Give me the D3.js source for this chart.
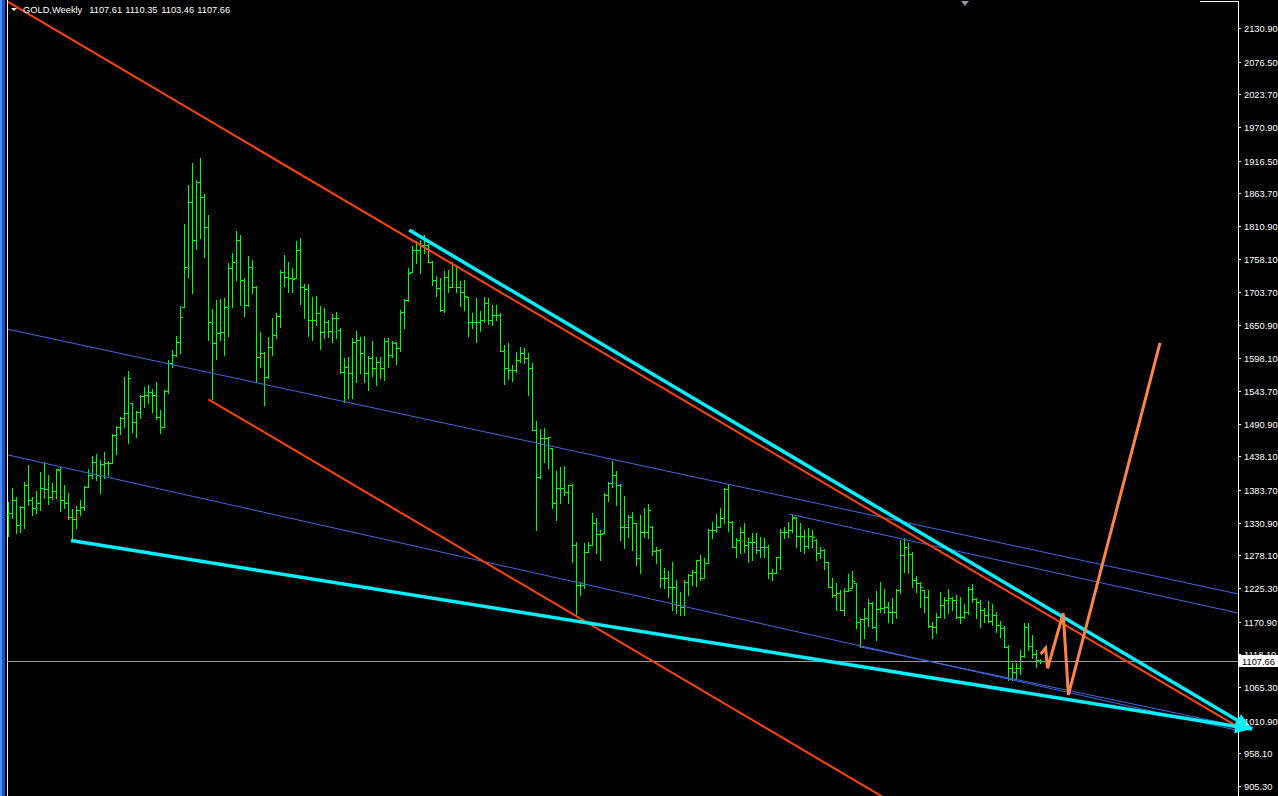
<!DOCTYPE html>
<html><head><meta charset="utf-8">
<script src="https://cdn.jsdelivr.net/npm/d3@7"></script>
<style>html,body{margin:0;padding:0;background:#000;overflow:hidden}svg{display:block}</style>
</head><body>
<svg id="c" width="1278" height="796"></svg>
<script>
// ---- data (weekly GOLD bars) ----
const symbolName = "GOLD,Weekly";
const headerValues = ["1107.61", "1110.35", "1103.46", "1107.66"];
const lastPrice = 1107.66;
const priceTicks = [2130.90, 2076.50, 2023.70, 1970.90, 1916.50, 1863.70, 1810.90, 1758.10, 1703.70, 1650.90, 1598.10, 1543.70, 1490.90, 1438.10, 1383.70, 1330.90, 1278.10, 1225.30, 1170.90, 1118.10, 1065.30, 1010.90, 958.10, 905.30];

const opens = [1344,1347,1368,1327,1356,1392,1368,1355,1363,1387,
1386,1373,1382,1416,1368,1363,1340,1337,1352,1357,
1389,1408,1429,1408,1426,1428,1428,1473,1486,1500,
1508,1524,1494,1510,1536,1538,1542,1538,1502,1486,
1544,1589,1602,1623,1680,1745,1850,1788,1882,1858,
1809,1656,1622,1638,1639,1680,1743,1753,1788,1724,
1683,1745,1712,1599,1605,1567,1615,1635,1665,1736,
1728,1727,1727,1772,1712,1709,1659,1659,1670,1639,
1656,1641,1662,1643,1575,1583,1573,1623,1627,1605,
1573,1597,1581,1591,1581,1625,1602,1622,1614,1672,
1691,1736,1772,1772,1780,1780,1753,1724,1711,1675,
1728,1712,1748,1712,1704,1696,1656,1656,1656,1659,
1686,1659,1667,1667,1609,1581,1578,1578,1594,1605,
1597,1581,1481,1405,1468,1468,1452,1363,1387,1387,
1381,1392,1295,1230,1230,1284,1295,1331,1313,1314,
1376,1395,1408,1392,1324,1324,1340,1331,1274,1316,
1316,1324,1285,1287,1242,1242,1227,1227,1198,1195,
1235,1247,1251,1271,1242,1266,1319,1319,1324,1339,
1386,1332,1292,1303,1316,1295,1300,1300,1287,1292,
1292,1250,1250,1276,1316,1316,1319,1339,1310,1310,
1293,1310,1303,1282,1287,1268,1227,1214,1217,1190,
1221,1226,1234,1171,1175,1177,1201,1162,1192,1193,
1195,1187,1187,1222,1279,1292,1280,1238,1234,1222,
1211,1164,1162,1179,1198,1206,1209,1206,1179,1179,
1187,1224,1208,1203,1190,1182,1172,1182,1166,1161,
1130,1096,1090,1096,1116,1162,1132,1119,1107.61];

const highs = [1365,1387,1373,1358,1397,1424,1373,1382,1413,1429,
1408,1395,1418,1421,1392,1379,1353,1358,1368,1390,
1418,1439,1442,1432,1445,1431,1474,1487,1502,1567,
1576,1525,1512,1538,1551,1554,1547,1559,1513,1546,
1594,1610,1633,1681,1814,1877,1913,1885,1921,1863,
1829,1677,1691,1693,1694,1751,1767,1803,1796,1727,
1762,1756,1714,1639,1607,1631,1662,1670,1740,1764,
1753,1743,1787,1791,1717,1717,1696,1698,1681,1678,
1659,1669,1672,1646,1597,1599,1630,1641,1631,1633,
1601,1625,1599,1599,1630,1630,1625,1623,1675,1693,
1743,1779,1787,1788,1796,1781,1754,1730,1727,1738,
1740,1753,1748,1722,1724,1696,1670,1694,1673,1696,
1694,1683,1683,1670,1618,1622,1586,1607,1615,1614,
1605,1589,1496,1483,1484,1470,1452,1415,1421,1423,
1392,1393,1300,1235,1298,1300,1347,1339,1319,1379,
1397,1431,1415,1393,1374,1344,1348,1331,1344,1355,
1361,1325,1292,1288,1258,1253,1268,1238,1219,1238,
1248,1255,1271,1279,1274,1321,1332,1345,1355,1387,
1394,1334,1306,1324,1331,1306,1314,1314,1308,1306,
1295,1256,1276,1321,1324,1332,1344,1341,1331,1319,
1323,1319,1304,1292,1289,1268,1242,1234,1222,1226,
1248,1253,1234,1177,1193,1208,1202,1221,1235,1224,
1203,1209,1224,1303,1306,1298,1284,1245,1235,1223,
1222,1171,1185,1219,1211,1224,1211,1214,1211,1200,
1227,1232,1209,1206,1193,1205,1200,1187,1172,1164,
1133,1104,1104,1125,1169,1169,1149,1125,1110.35];

const lows = [1310,1339,1314,1316,1322,1360,1343,1347,1352,1371,
1361,1369,1371,1350,1355,1337,1306,1323,1344,1352,
1389,1403,1400,1379,1403,1408,1427,1442,1474,1486,
1460,1478,1470,1500,1518,1525,1510,1499,1476,1486,
1541,1583,1601,1605,1680,1728,1702,1774,1791,1761,
1627,1531,1596,1627,1602,1633,1680,1724,1683,1665,
1681,1702,1559,1583,1521,1565,1602,1630,1648,1714,
1704,1704,1727,1685,1662,1633,1627,1651,1612,1630,
1631,1623,1630,1573,1526,1533,1533,1559,1573,1559,
1546,1568,1554,1565,1562,1583,1599,1588,1609,1646,
1690,1736,1751,1735,1767,1753,1715,1698,1673,1672,
1704,1712,1704,1681,1675,1633,1646,1623,1641,1656,
1652,1651,1659,1609,1555,1563,1560,1575,1591,1589,
1538,1481,1319,1403,1429,1420,1355,1335,1363,1376,
1363,1268,1182,1214,1226,1284,1295,1282,1271,1314,
1366,1389,1360,1303,1290,1308,1287,1263,1250,1308,
1306,1279,1266,1227,1226,1211,1190,1185,1182,1182,
1214,1230,1229,1238,1242,1266,1306,1316,1324,1331,
1318,1292,1276,1282,1284,1268,1271,1282,1276,1276,
1242,1238,1250,1256,1306,1308,1316,1292,1285,1282,
1290,1292,1271,1274,1256,1227,1211,1190,1190,1182,
1221,1225,1161,1130,1145,1164,1161,1141,1187,1185,
1171,1169,1177,1217,1251,1250,1227,1219,1195,1187,
1162,1145,1153,1178,1177,1185,1190,1177,1169,1177,
1183,1203,1177,1162,1171,1171,1166,1154,1146,1130,
1077,1077,1078,1086,1114,1125,1112,1098,1103.46];

const closes = [1347,1368,1327,1356,1392,1368,1355,1363,1387,1386,
1373,1382,1418,1368,1363,1340,1337,1352,1357,1389,
1408,1429,1408,1426,1428,1428,1473,1486,1500,1508,
1565,1494,1510,1536,1538,1542,1538,1502,1486,1544,
1589,1602,1623,1664,1745,1850,1788,1882,1858,1809,
1656,1622,1638,1639,1680,1743,1753,1788,1724,1683,
1745,1712,1599,1605,1567,1615,1635,1665,1736,1728,
1727,1725,1772,1712,1709,1659,1659,1670,1639,1656,
1641,1662,1662,1575,1583,1573,1623,1627,1605,1573,
1597,1581,1591,1581,1625,1602,1622,1614,1672,1691,
1735,1772,1772,1780,1780,1753,1724,1711,1675,1728,
1712,1749,1712,1704,1698,1656,1656,1656,1659,1686,
1659,1667,1667,1609,1581,1578,1578,1594,1605,1597,
1581,1481,1405,1468,1468,1470,1363,1387,1387,1381,
1392,1295,1230,1230,1284,1295,1331,1313,1313,1376,
1395,1408,1392,1324,1324,1340,1331,1274,1316,1316,
1352,1285,1287,1242,1242,1227,1227,1198,1195,1235,
1247,1251,1271,1242,1266,1319,1319,1324,1339,1386,
1332,1292,1303,1316,1295,1300,1300,1287,1292,1292,
1250,1250,1276,1316,1316,1319,1340,1310,1310,1293,
1310,1308,1282,1287,1268,1227,1214,1217,1190,1221,
1222,1237,1171,1175,1177,1201,1162,1192,1193,1195,
1187,1187,1222,1279,1292,1280,1238,1234,1227,1211,
1164,1162,1179,1198,1206,1209,1206,1179,1179,1187,
1224,1208,1203,1190,1182,1172,1182,1166,1161,1130,
1096,1090,1096,1116,1162,1132,1119,1109,1107.66];

// trend objects: [barIndex, price] anchor points
const orangeUpperLine = [[0, 2173.0], [307.5, 1000.7]];
const orangeLowerLine = [[50.1, 1530.6], [225, 863.6]];
const cyanUpperArrow  = [[100.3, 1804.3], [311, 997.5]];
const cyanLowerArrow  = [[15.75, 1302.3], [311, 997.5]];
const blueLine1 = [[0, 1643.8], [307.5, 1215.8]];
const blueLine2 = [[195.25, 1345.1], [307.5, 1185.0]];
const blueLine3 = [[0, 1440.5], [307.5, 995.1]];
const blueLine4 = [[212.8, 1130.6], [307.5, 1002.3]];
const forecastPath = [[258.2, 1118.7], [259.4, 1128.0], [259.9, 1095.6], [263.8, 1184.6], [265.1, 1052.5], [288, 1621.6]];

// ---- drawing ----
const W = 1278, H = 796;
const plotLeft = 7, plotRight = 1238;
const svg = d3.select("#c");
const x = d3.scaleLinear().domain([0, 258]).range([8, 1040]);
const y = d3.scaleLinear().domain([905.30, 2130.90]).range([786, 28]);
const FONT = "'Liberation Sans', Arial, sans-serif";

svg.append("rect").attr("width", W).attr("height", H).attr("fill", "#000");

const defs = svg.append("defs");
defs.append("clipPath").attr("id", "plot").append("rect")
  .attr("x", plotLeft).attr("y", 0).attr("width", plotRight - plotLeft).attr("height", H);

// left window strip
svg.append("rect").attr("x", 0).attr("y", 0).attr("width", 2).attr("height", H).attr("fill", "#4d8ff5");
svg.append("rect").attr("x", 2).attr("y", 0).attr("width", 3).attr("height", H).attr("fill", "#1d4fd0");
// frame
svg.append("rect").attr("x", 7).attr("y", 0).attr("width", 1).attr("height", H).attr("fill", "#fff");
svg.append("rect").attr("x", plotRight).attr("y", 1).attr("width", 1).attr("height", H).attr("fill", "#fff");
svg.append("rect").attr("x", 1200).attr("y", 1).attr("width", plotRight - 1200).attr("height", 1).attr("fill", "#fff");

const plot = svg.append("g").attr("clip-path", "url(#plot)");

// current price line
plot.append("line").attr("x1", plotLeft).attr("x2", plotRight)
  .attr("y1", Math.round(y(lastPrice)) + 0.5).attr("y2", Math.round(y(lastPrice)) + 0.5)
  .attr("stroke", "#9a9a9a").attr("stroke-width", 1).attr("shape-rendering", "crispEdges");

// OHLC bars
const barsG = plot.append("g").attr("fill", "#00ff00").attr("shape-rendering", "crispEdges");
d3.range(opens.length).forEach(i => {
  const bx = Math.round(x(i));
  const yh = Math.round(y(highs[i])), yl = Math.round(y(lows[i]));
  barsG.append("rect").attr("x", bx).attr("y", yh).attr("width", 1).attr("height", Math.max(1, yl - yh + 1));
  barsG.append("rect").attr("x", bx - 2).attr("y", Math.round(y(opens[i]))).attr("width", 2).attr("height", 1);
  barsG.append("rect").attr("x", bx + 1).attr("y", Math.round(y(closes[i]))).attr("width", 2).attr("height", 1);
});

const line = d3.line().x(d => x(d[0])).y(d => y(d[1]));

// blue thin lines
[blueLine1, blueLine2, blueLine3, blueLine4].forEach(l => {
  plot.append("path").attr("d", line(l)).attr("fill", "none")
    .attr("stroke", "#4169e1").attr("stroke-width", 1);
});
// orange-red trend lines
[orangeUpperLine, orangeLowerLine].forEach(l => {
  plot.append("path").attr("d", line(l)).attr("fill", "none")
    .attr("stroke", "#ff4500").attr("stroke-width", 2);
});

// cyan arrows (not clipped)
function arrow(pts) {
  svg.append("path").attr("d", line(pts)).attr("fill", "none")
    .attr("stroke", "#00f0ff").attr("stroke-width", 3.5);
  const x0 = x(pts[0][0]), y0 = y(pts[0][1]);
  const x1 = x(pts[1][0]), y1 = y(pts[1][1]);
  const len = Math.hypot(x1 - x0, y1 - y0);
  const ux = (x1 - x0) / len, uy = (y1 - y0) / len;
  const L = 17, Wd = 7;
  const bx = x1 - L * ux, by = y1 - L * uy;
  svg.append("path")
    .attr("d", `M${x1},${y1}L${bx - Wd * uy},${by + Wd * ux}L${bx + Wd * uy},${by - Wd * ux}Z`)
    .attr("fill", "#00f0ff");
}
arrow(cyanUpperArrow);
arrow(cyanLowerArrow);

// hand-drawn forecast path
svg.append("path").attr("d", line(forecastPath)).attr("fill", "none")
  .attr("stroke", "#fb8448").attr("stroke-width", 3).attr("stroke-linejoin", "miter");

// price axis
const axisG = svg.append("g").attr("font-family", FONT).attr("font-size", 9.3).attr("fill", "#fff");
priceTicks.forEach(v => {
  const ty = Math.round(y(v));
  axisG.append("rect").attr("x", 1239).attr("y", ty).attr("width", 2).attr("height", 1).attr("fill", "#fff");
  axisG.append("text").attr("x", 1244).attr("y", ty + 4).text(v.toFixed(2));
});
// current price box
const py = Math.round(y(lastPrice));
svg.append("rect").attr("x", 1239).attr("y", py - 6).attr("width", 39).attr("height", 12).attr("fill", "#fff");
svg.append("text").attr("x", 1242).attr("y", py + 4).attr("font-family", FONT).attr("font-size", 9.3)
  .attr("fill", "#000").text(lastPrice.toFixed(2));

// header
svg.append("path").attr("d", "M11,8L17,8L14,11Z").attr("fill", "#fff");
const hdr = svg.append("g").attr("font-family", FONT).attr("font-size", 9.3).attr("fill", "#fff");
hdr.append("text").attr("x", 23).attr("y", 13).text(symbolName);
const hx = [89.3, 125.3, 161.3, 197.3];
headerValues.forEach((t, i) => hdr.append("text").attr("x", hx[i]).attr("y", 13).text(t));

// chart shift marker
svg.append("path").attr("d", "M961,1L969,1L965,6Z").attr("fill", "#8a99aa");
</script>
</body></html>
